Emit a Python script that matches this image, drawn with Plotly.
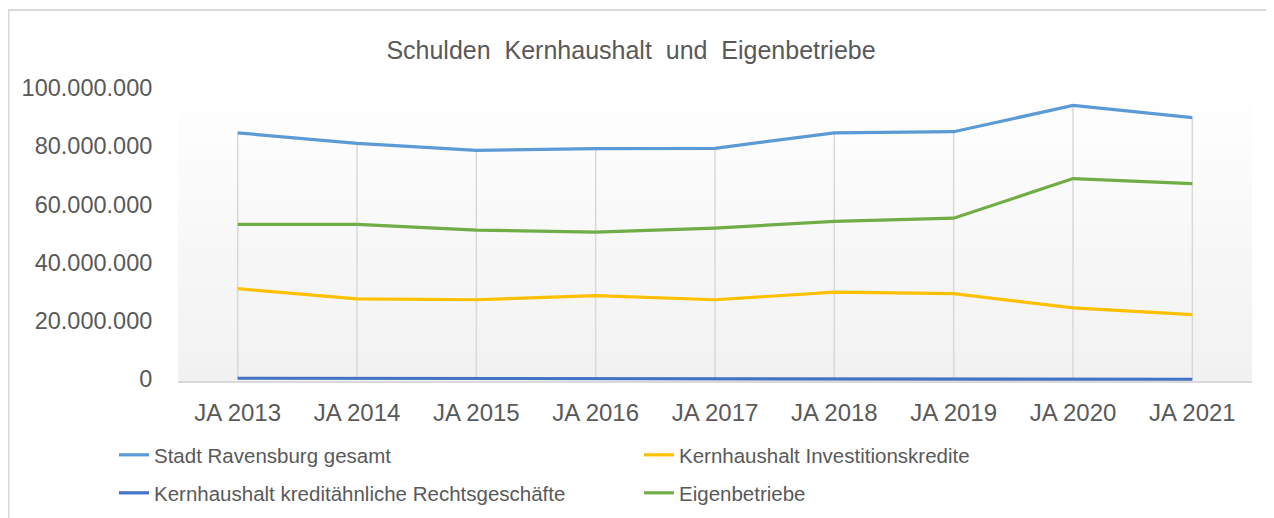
import plotly.graph_objects as go

categories = ["JA 2013", "JA 2014", "JA 2015", "JA 2016", "JA 2017", "JA 2018", "JA 2019", "JA 2020", "JA 2021"]
stadt_gesamt = [84600000, 81000000, 78600000, 79200000, 79300000, 84600000, 85000000, 94000000, 89800000]
investitionskredite = [31100000, 27600000, 27300000, 28700000, 27300000, 29900000, 29400000, 24500000, 22200000]
kreditaehnlich = [350000, 330000, 300000, 50000, 40000, 30000, 20000, 10000, 0]
eigenbetriebe = [53200000, 53200000, 51200000, 50500000, 51900000, 54200000, 55300000, 68900000, 67200000]

series = [
    ("Stadt Ravensburg gesamt", stadt_gesamt, "#5B9BD5", "legend"),
    ("Kernhaushalt Investitionskredite", investitionskredite, "#FFC000", "legend"),
    ("Kernhaushalt kreditähnliche Rechtsgeschäfte", kreditaehnlich, "#4472C4", "legend2"),
    ("Eigenbetriebe", eigenbetriebe, "#70AD47", "legend2"),
]

# the page has an 8px body margin, so figure coordinates = page coordinates - 8
OFF = 8
W, H = 1274 - OFF, 518 - OFF
L, R, T, B = 178 - OFF, 22, 88 - OFF, 137
FONT = "Liberation Sans, Arial, sans-serif"
TXT = "#595959"

fig = go.Figure()

# drop lines from the axis to the highest series value at each category
maxvals = [max(v) for v in zip(stadt_gesamt, investitionskredite, kreditaehnlich, eigenbetriebe)]
dx, dy = [], []
for c, m in zip(categories, maxvals):
    dx += [c, c, None]
    dy += [0, m, None]
fig.add_trace(go.Scatter(x=dx, y=dy, mode="lines", line=dict(color="#D9D9D9", width=1.5),
                         showlegend=False, hoverinfo="skip"))

for name, vals, col, lg in series:
    fig.add_trace(go.Scatter(x=categories, y=vals, mode="lines", name=name, legend=lg,
                             line=dict(color=col, width=3.2)))

# gradient background of plot area
shapes = []
N = 60
for i in range(N):
    f = (i + 0.5) / N
    v = round(255 - (255 - 241) * f)
    shapes.append(dict(type="rect", xref="paper", yref="paper", x0=0, x1=1,
                       y0=1 - (i + 1) / N, y1=1 - i / N + 0.001,
                       fillcolor=f"rgb({v},{v},{v})", line=dict(width=0), layer="below"))
# outer chart border (figure pixel coords -> paper)
pw, ph = W - L - R, H - T - B
def px(x): return (x - L) / pw
def py(y): return (H - B - y) / ph
shapes.append(dict(type="rect", xref="paper", yref="paper", x0=px(0.5), x1=px(1265),
                   y0=py(530), y1=py(2), line=dict(color="#D9D9D9", width=2),
                   fillcolor="rgba(0,0,0,0)", layer="below"))

legend_common = dict(orientation="h", xref="container", yref="container",
                     xanchor="left", yanchor="middle",
                     entrywidth=480, entrywidthmode="pixels",
                     font=dict(family=FONT, size=20.5, color=TXT),
                     bgcolor="rgba(0,0,0,0)", traceorder="normal")

fig.update_layout(
    width=W, height=H,
    margin=dict(l=L, r=R, t=T, b=B, autoexpand=False),
    paper_bgcolor="white", plot_bgcolor="white",
    separators=",.",
    font=dict(family=FONT, size=21, color=TXT),
    title=dict(text="Schulden\u00a0 Kernhaushalt\u00a0 und\u00a0 Eigenbetriebe",
               font=dict(family=FONT, size=25, color=TXT),
               xref="container", yref="container", x=(631 - OFF) / W, y=1 - (50 - OFF) / H,
               xanchor="center", yanchor="middle"),
    shapes=shapes,
    showlegend=True,
    legend=dict(x=(114 - OFF) / W, y=1 - (455 - OFF) / H, **legend_common),
    legend2=dict(x=(114 - OFF) / W, y=1 - (493 - OFF) / H, **legend_common),
    xaxis=dict(type="category", categoryorder="array", categoryarray=categories,
               range=[-0.5, len(categories) - 0.5], automargin=False,
               showgrid=False, zeroline=False, showline=True, linecolor="#D9D9D9", linewidth=1.5,
               ticks="outside", ticklen=9, tickcolor="rgba(0,0,0,0)",
               tickfont=dict(family=FONT, size=24, color=TXT), fixedrange=True),
    yaxis=dict(range=[-600000, 100000000], tickvals=[0, 20000000, 40000000, 60000000, 80000000, 100000000],
               tickformat=",d", showgrid=False, zeroline=False, showline=False, automargin=False,
               ticks="outside", ticklen=20, tickcolor="rgba(0,0,0,0)",
               tickfont=dict(family=FONT, size=23.5, color=TXT), fixedrange=True),
)

fig.write_html("out.html")
